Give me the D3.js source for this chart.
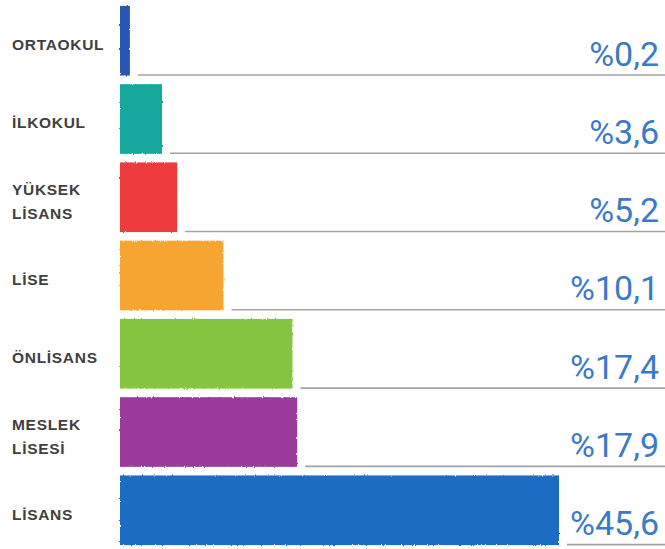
<!DOCTYPE html>
<html>
<head>
<meta charset="utf-8">
<script src="https://cdn.jsdelivr.net/npm/d3@7"></script>
<style>
  body { margin: 0; background: #fff; }
  svg { display: block; }
</style>
</head>
<body>
<svg id="chart" viewBox="0 0 665 549" width="665" height="549"></svg>
<script>
// data (top to bottom)
const categories = ["ORTAOKUL", "İLKOKUL", "YÜKSEK LİSANS", "LİSE", "ÖNLİSANS", "MESLEK LİSESİ", "LİSANS"];
const labelLines = [["ORTAOKUL"], ["İLKOKUL"], ["YÜKSEK", "LİSANS"], ["LİSE"], ["ÖNLİSANS"], ["MESLEK", "LİSESİ"], ["LİSANS"]];
const values = [0.2, 3.6, 5.2, 10.1, 17.4, 17.9, 45.6];
const valueLabels = ["%0,2", "%3,6", "%5,2", "%10,1", "%17,4", "%17,9", "%45,6"];
const colors = ["#2b55b3", "#14a89c", "#ee3b3d", "#f6a530", "#85c540", "#9a3b9c", "#1f6cc3"];

const svg = d3.select("#chart");
const width = parseInt(svg.attr("viewBox").split(' ')[2]);

const barX = 120;

const y = d3.scaleBand()
    .domain(categories)
    .range([2, 549])
    .paddingInner(0.11)
    .paddingOuter(0.05);

const x = d3.scaleLinear()
    .domain([0, 45.6])
    .range([8, 439]);

// crayon-ish edges
const defs = svg.append("defs");
const filter = defs.append("filter").attr("id", "crayon")
    .attr("x", "-2%").attr("y", "-5%").attr("width", "104%").attr("height", "110%");
filter.append("feTurbulence")
    .attr("type", "fractalNoise")
    .attr("baseFrequency", "0.9 0.25")
    .attr("numOctaves", 2)
    .attr("result", "noise");
filter.append("feDisplacementMap")
    .attr("in", "SourceGraphic")
    .attr("in2", "noise")
    .attr("scale", 2.5);

const data = categories.map((c, i) => ({
    cat: c, lines: labelLines[i], value: values[i], label: valueLabels[i], color: colors[i]
}));

const rows = svg.append("g")
    .selectAll("g")
    .data(data)
    .enter()
    .append("g");

rows.append("rect")
    .attr("x", barX)
    .attr("y", d => y(d.cat))
    .attr("width", d => x(d.value))
    .attr("height", y.bandwidth())
    .attr("fill", d => d.color)
    .attr("filter", "url(#crayon)");

rows.append("line")
    .attr("x1", d => barX + x(d.value) + 8)
    .attr("x2", width)
    .attr("y1", d => y(d.cat) + y.bandwidth() - 0.5)
    .attr("y2", d => y(d.cat) + y.bandwidth() - 0.5)
    .style("stroke", "#a3a3a3")
    .style("stroke-width", 1.6);

rows.append("text")
    .attr("x", 659)
    .attr("y", d => y(d.cat) + y.bandwidth() - 10)
    .attr("text-anchor", "end")
    .style("font-family", "Roboto, 'Liberation Sans', sans-serif")
    .style("font-weight", 400)
    .style("font-size", "34px")
    .style("fill", "#3b7ac6")
    .text(d => d.label);

const labels = rows.append("text")
    .attr("x", 12)
    .style("font-family", "'Liberation Sans', Arial, sans-serif")
    .style("font-weight", "bold")
    .style("font-size", "15.5px")
    .style("letter-spacing", "0.7px")
    .style("fill", "#404040");

labels.each(function (d) {
    const mid = y(d.cat) + y.bandwidth() / 2 + 4;
    const n = d.lines.length;
    d3.select(this).selectAll("tspan")
        .data(d.lines)
        .enter()
        .append("tspan")
        .attr("x", 12)
        .attr("y", (t, j) => mid + 5.5 + (j - (n - 1) / 2) * 24)
        .text(t => t);
});
</script>
</body>
</html>
